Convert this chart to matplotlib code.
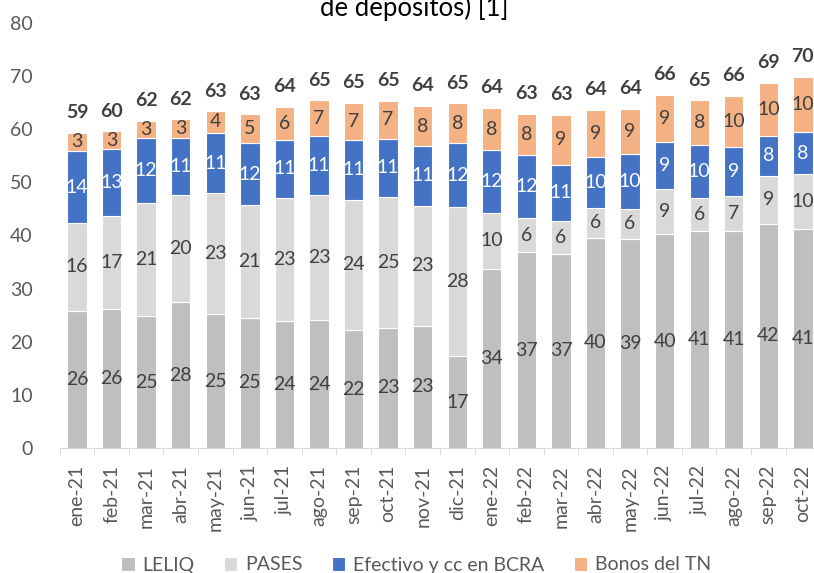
import numpy as np
import matplotlib.pyplot as plt

plt.rcParams['font.family'] = ['Lato', 'DejaVu Sans']

# datos (% de depósitos)
meses = ['ene-21', 'feb-21', 'mar-21', 'abr-21', 'may-21', 'jun-21', 'jul-21', 'ago-21',
         'sep-21', 'oct-21', 'nov-21', 'dic-21', 'ene-22', 'feb-22', 'mar-22', 'abr-22',
         'may-22', 'jun-22', 'jul-22', 'ago-22', 'sep-22', 'oct-22']
leliq = [25.86, 26.18, 24.92, 27.55, 25.30, 24.55, 23.98, 24.17, 22.24, 22.67, 23.05,
         17.35, 33.76, 36.95, 36.58, 39.59, 39.40, 40.20, 40.80, 40.79, 42.22, 41.28]
pases = [16.49, 17.45, 21.19, 20.12, 22.63, 21.13, 23.13, 23.39, 24.45, 24.62, 22.55,
         27.95, 10.45, 6.28, 6.15, 5.58, 5.58, 8.55, 6.20, 6.69, 8.96, 10.28]
efectivo = [13.53, 12.55, 12.27, 10.71, 11.39, 11.65, 10.90, 11.20, 11.28, 10.91, 11.22,
            12.03, 11.78, 11.85, 10.60, 9.64, 10.28, 8.85, 10.00, 9.16, 7.58, 7.89]
bonos = [3.45, 3.39, 3.20, 3.46, 4.03, 5.45, 6.14, 6.65, 7.01, 7.08, 7.52,
         7.52, 8.03, 7.81, 9.32, 8.84, 8.57, 8.85, 8.40, 9.58, 9.96, 10.40]

series = [
    (leliq, '#BFBFBF', 'LELIQ', '#404040'),
    (pases, '#D9D9D9', 'PASES', '#404040'),
    (efectivo, '#4472C4', 'Efectivo y cc en BCRA', 'white'),
    (bonos, '#F4B183', 'Bonos del TN', '#404040'),
]

fig = plt.figure(figsize=(8.14, 5.73), dpi=100)
ax = fig.add_axes([59.7 / 814, 124.7 / 573, 760.5 / 814, 425.6 / 573])

x = np.arange(len(meses))
base = np.zeros(len(meses))
for valores, color, nombre, col_txt in series:
    barras = ax.bar(x, valores, 0.56, bottom=base, color=color, edgecolor='white',
                    linewidth=0.8, label=nombre)
    ax.bar_label(barras, labels=[f'{v:.0f}' for v in valores], label_type='center',
                 color=col_txt, fontsize=14)
    base += np.array(valores)

# totales arriba de cada barra
for xi, total in zip(x, base):
    ax.annotate(f'{total:.0f}', (xi, total), xytext=(0, 14.5), textcoords='offset points',
                ha='center', va='center', fontsize=14, fontweight='bold', color='#404040')

ax.set_xlim(-0.5, len(meses) - 0.5)
ax.set_ylim(0, 80)
ax.set_yticks(range(0, 81, 10))
ax.set_xticks(x)
ax.set_xticklabels(meses, rotation=90)
ax.set_xticks(np.arange(-0.5, len(meses), 1), minor=True)

for lado in ['top', 'right', 'left']:
    ax.spines[lado].set_visible(False)
ax.spines['bottom'].set_color('#D9D9D9')

ax.tick_params(axis='y', length=0, pad=19.5, labelsize=14, labelcolor='#595959')
ax.tick_params(axis='x', which='major', length=0, pad=12, labelsize=14, labelcolor='#595959')
ax.tick_params(axis='x', which='minor', length=5, color='#D9D9D9')

fig.legend(loc='center', bbox_to_anchor=(416 / 814, 1 - 565 / 573), ncol=4, frameon=False,
           fontsize=14, handlelength=0.7, handleheight=0.7, handletextpad=0.4,
           columnspacing=1.5, labelcolor='#595959')

fig.text(414 / 814, 0.972, 'de depósitos) [1]', ha='center', va='baseline',
         fontsize=18.5, color='black')

fig.savefig('out.png', dpi=100)
